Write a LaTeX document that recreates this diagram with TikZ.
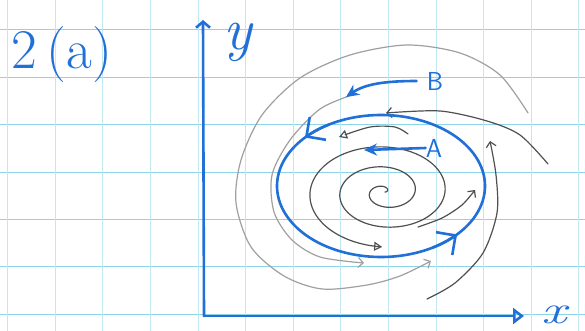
\documentclass[tikz,border=0pt]{standalone}
\usepackage{graphicx}
\usetikzlibrary{arrows.meta}
\definecolor{ink}{RGB}{32,112,216}
\definecolor{lead}{RGB}{80,80,80}
\definecolor{faintlead}{RGB}{160,160,160}
\definecolor{gridline}{RGB}{140,212,232}
\begin{document}
\begin{tikzpicture}[x={(1pt,0pt)},y={(0pt,-1pt)},
        pen/.style={ink,line width=2.6pt,line cap=round},
        pencil/.style={lead,line width=1.2pt,line cap=round},
        softpencil/.style={faintlead,line width=1.2pt,line cap=round},
        barb/.style={-{Straight Barb[length=5pt,width=10pt]}},
        bigbarb/.style={-{Straight Barb[length=14pt,width=28pt]}}]
        \useasboundingbox (0,0) rectangle (585,331);
        \fill[white] (0,0) rectangle (585,331);
        \foreach \k in {0,...,6} \draw[gridline,line width=0.9pt] (0,{29.8+47.4*\k})--(585,{29.8+47.4*\k});
        \foreach \k in {0,...,12} \draw[gridline!55,line width=0.7pt] ({7.5+47.6*\k},0)--({7.5+47.6*\k},331);
        \node[ink,font=\fontsize{56}{56}\selectfont] (title) at (62,55) {2\,(a)};
        \coordinate (O) at (204,316);
        \coordinate (ytip) at (203,20);
        \coordinate (xtip) at (524,316);
        \draw[pen,-{Straight Barb[length=6pt,width=14pt]}] (O)--(ytip);
        \draw[pen,-{Triangle[open,length=11pt,width=16pt]}] (O)--(xtip);
        \node[ink,font=\itshape\fontsize{60}{60}\selectfont,anchor=base,inner sep=0pt] (ylab) at (238,50) {y};
        \node[ink,font=\itshape\fontsize{40}{40}\selectfont,anchor=base,inner sep=0pt] (xlab) at (554,323) {\scalebox{1.4}[1]{x}};
        \draw[softpencil,barb] plot[smooth] coordinates {(528,113) (500,75) (460,53) (407,45) (350,55) (300,78) (262,115) (241,160) (236,203) (251,247) (284,276) (322,289) (367,285) (400,276) (431,261)};
        \draw[softpencil,barb] plot[smooth] coordinates {(352,95) (320,109) (290,140) (272,175) (274,212) (292,240) (320,257) (364,263)};
        \draw[pencil,barb] plot[smooth] coordinates {(548,164) (520,135) (487,121) (440,111) (386,113)};
        \draw[pencil,barb] plot[smooth] coordinates {(427,299) (455,283) (483,253) (497,213) (496,175) (490,141)};
        \draw[pencil,-{Triangle[open,length=8pt,width=9pt]}] plot[domain=0:988,samples=240,smooth] ({385+0.0833*\x*cos(\x)},{192-0.0556*\x*sin(\x)});
        \draw[pencil,-{Triangle[open,length=8pt,width=9pt]}] plot[smooth] coordinates {(408,134) (395,127) (370,127) (339,137)};
        \draw[pencil,barb] plot[smooth] coordinates {(418,227) (442,218) (462,205) (475,190)};
        \draw[pen] plot[domain=0:360,samples=120,smooth] ({381+104*cos(\x)},{186-71*sin(\x)});
        \draw[pen,bigbarb] plot[domain=120:137,samples=8,smooth] ({381+104*cos(\x)},{186-71*sin(\x)});
        \draw[pen,bigbarb] plot[domain=300:317,samples=8,smooth] ({381+104*cos(\x)},{186-71*sin(\x)});
        \node[ink,font=\sffamily\fontsize{26}{26}\selectfont,inner sep=0pt] (A) at (434,148) {A};
        \coordinate (Aend) at (364,150);
        \draw[pen,-{Stealth[length=13pt,width=12pt]}] (A.west)--(Aend);
        \node[ink,font=\sffamily\fontsize{26}{26}\selectfont,inner sep=0pt] (B) at (435,81) {B};
        \coordinate (Bend) at (346,97);
        \draw[pen,shorten <=10pt,-{Stealth[length=13pt,width=12pt]}] (B.west) .. controls (385,81) and (365,84) .. (Bend);
\end{tikzpicture}
\end{document}
